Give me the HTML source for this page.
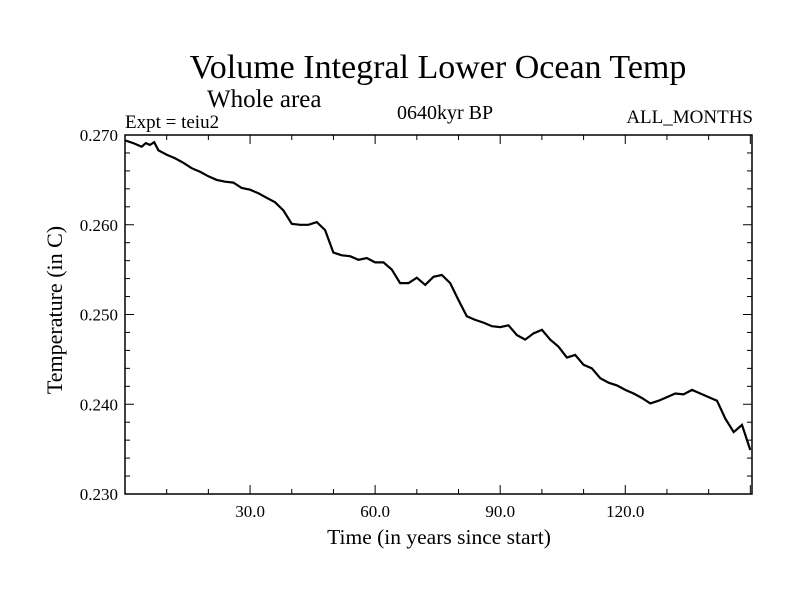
<!DOCTYPE html>
<html><head><meta charset="utf-8"><style>
html,body{margin:0;padding:0;background:#fff;width:800px;height:600px;overflow:hidden}
text{font-family:"Liberation Serif",serif;fill:#000}
</style></head><body>
<svg id="chart" width="800" height="600" xmlns="http://www.w3.org/2000/svg">
<text x="438" y="78" font-size="34" text-anchor="middle">Volume Integral Lower Ocean Temp</text>
<text x="207" y="107" font-size="25">Whole area</text>
<text x="125" y="128" font-size="19">Expt = teiu2</text>
<text x="445" y="119" font-size="20" text-anchor="middle">0640kyr BP</text>
<text x="753" y="123" font-size="19" text-anchor="end">ALL_MONTHS</text>
<text x="439" y="544" font-size="21.5" text-anchor="middle">Time (in years since start)</text>
<text transform="translate(62,310) rotate(-90)" font-size="22" text-anchor="middle">Temperature (in C)</text>
<g id="axes"></g>
<rect x="125" y="135" width="627" height="359" fill="none" stroke="#000" stroke-width="1.5"/>
</svg>
<script>
const years=[0,2,4,5,6,7,8,10,12,14,16,18,20,22,24,26,28,30,32,34,36,38,40,42,44,46,48,50,52,54,56,58,60,62,64,66,68,70,72,74,76,78,80,82,84,86,88,90,92,94,96,98,100,102,104,106,108,110,112,114,116,118,120,122,124,126,128,130,132,134,136,138,140,142,144,146,148,150];
const temps=[.2694,.2691,.2687,.2691,.2689,.2692,.2683,.2678,.2674,.2669,.2663,.2659,.2654,.2650,.2648,.2647,.2641,.2639,.2635,.2630,.2625,.2616,.2601,.2600,.2600,.2603,.2594,.2569,.2566,.2565,.2561,.2563,.2558,.2558,.2550,.2535,.2535,.2541,.2533,.2542,.2544,.2535,.2516,.2498,.2494,.2491,.2487,.2486,.2488,.2477,.2472,.2479,.2483,.2472,.2464,.2452,.2455,.2444,.2440,.2429,.2424,.2421,.2416,.2412,.2407,.2401,.2404,.2408,.2412,.2411,.2416,.2412,.2408,.2404,.2384,.2369,.2377,.2349];
const xTickLabels=["30.0","60.0","90.0","120.0"];
const xTickValues=[30,60,90,120];
const yTickValues=[0.230,0.240,0.250,0.260,0.270];
const yTickLabels=["0.230","0.240","0.250","0.260","0.270"];
const X0=125,X1=752,Y0=494,Y1=135,xmin=0,xmax=150.4,ymin=0.230,ymax=0.270;
const sx=v=>X0+(v-xmin)/(xmax-xmin)*(X1-X0);
const sy=v=>Y0-(v-ymin)/(ymax-ymin)*(Y0-Y1);
const NS="http://www.w3.org/2000/svg";
const g=document.getElementById('axes');
function mk(tag,attrs){const e=document.createElementNS(NS,tag);for(const k in attrs)e.setAttribute(k,attrs[k]);g.appendChild(e);return e;}
for(let v=10;v<xmax;v+=10){
  const major=v%30===0,len=major?9:5,x=sx(v);
  const t1=mk('line',{x1:x,x2:x,y1:Y0,y2:Y0-len,stroke:'#000','stroke-width':1});
  
  
  const t2=mk('line',{x1:x,x2:x,y1:Y1,y2:Y1+len,stroke:'#000','stroke-width':1});
  
  
}
for(let i=0;i<=20;i++){
  const v=ymin+i*0.002,major=i%5===0,len=major?9:5,y=sy(v);
  const t1=mk('line',{x1:X0,x2:X0+len,y1:y,y2:y,stroke:'#000','stroke-width':1});
  
  
  const t2=mk('line',{x1:X1,x2:X1-len,y1:y,y2:y,stroke:'#000','stroke-width':1});
  
  
}
xTickValues.forEach((v,i)=>{
  const t=mk('text',{x:sx(v),y:Y0+23,'font-size':17,'text-anchor':'middle'});
  t.textContent=xTickLabels[i];
  
  
});
yTickValues.forEach((v,i)=>{
  const t=mk('text',{x:X0-7,y:sy(v)+6,'font-size':17,'text-anchor':'end'});
  t.textContent=yTickLabels[i];
  
  
});
const d=years.map((yr,i)=>(i?'L':'M')+sx(yr).toFixed(1)+','+sy(temps[i]).toFixed(1)).join('');
const p=mk('path',{d:d,fill:'none',stroke:'#000','stroke-width':2.2,'stroke-linejoin':'miter'});


</script>
</body></html>
